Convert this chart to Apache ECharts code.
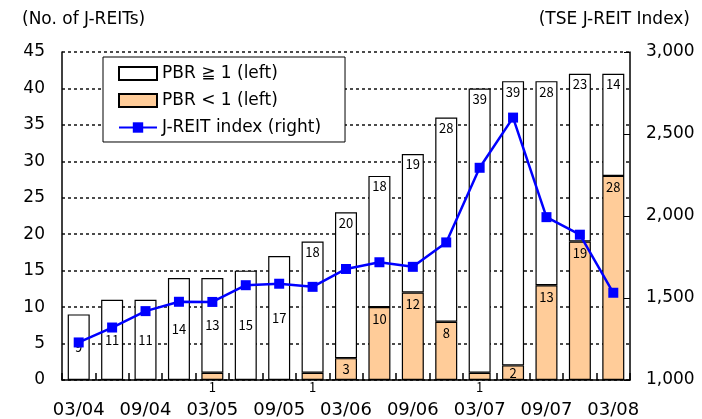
<!DOCTYPE html>
<html>
<head>
<meta charset="utf-8">
<script src="https://cdn.jsdelivr.net/npm/echarts@6/dist/echarts.min.js"></script>
<style>
  html, body { margin: 0; padding: 0; background: #fff; }
  #chart { width: 702px; height: 419px; }
</style>
</head>
<body>
<div id="chart"></div>
<script>
// Quarter-end months (MM/YY)
const quarters = ['03/04','06/04','09/04','12/04','03/05','06/05','09/05','12/05',
                  '03/06','06/06','09/06','12/06','03/07','06/07','09/07','12/07','03/08'];
// Number of J-REITs with price-to-book ratio >= 1
const pbrAtOrAbove1 = [9, 11, 11, 14, 13, 15, 17, 18, 20, 18, 19, 28, 39, 39, 28, 23, 14];
// Number of J-REITs with price-to-book ratio < 1
const pbrBelow1 = [0, 0, 0, 0, 1, 0, 0, 1, 3, 10, 12, 8, 1, 2, 13, 19, 28];
// TSE J-REIT Index level
const reitIndex = [1229, 1320, 1420, 1477, 1476, 1578, 1587, 1568, 1677, 1718, 1690,
                   1839, 2294, 2600, 1993, 1886, 1532];

const countTicks = { min: 0, max: 45, step: 5 };
const indexTicks = { min: 1000, max: 3000, step: 500 };

const FONT = '"DejaVu Sans", "Noto Sans CJK JP", sans-serif';
const LABEL_FONT = '"Noto Sans CJK JP", "DejaVu Sans", sans-serif';

const chart = echarts.init(document.getElementById('chart'), null, { renderer: 'canvas' });

// Orange segment: a count of 1 is written under the axis, 2-3 centred, the rest near the top
const belowItems = pbrBelow1.map(v => {
  if (!v) return { value: null };
  let pos = 'insideTop', dist = 5;
  if (v === 1) { pos = 'bottom'; dist = 1; }
  else if (v < 5) { pos = 'inside'; }
  return { value: v, label: { position: pos, distance: dist } };
});
// White segment: short stacks carry the count mid-bar, tall stacks near the top
const aboveItems = pbrAtOrAbove1.map((v, i) => ({
  value: v,
  label: { position: v + pbrBelow1[i] >= 19 ? 'insideTop' : 'inside', distance: 4 }
}));

const barLabel = { show: true, color: '#000', fontFamily: LABEL_FONT, fontSize: 13 };

chart.setOption({
  animation: false,
  textStyle: { fontFamily: FONT },
  grid: { left: 62, right: 72, top: 52, bottom: 38, containLabel: false },
  graphic: [
    { type: 'text', left: 22, top: 11,
      style: { text: '(No. of J-REITs)', font: '17px ' + FONT, fill: '#000' } },
    { type: 'text', right: 12, top: 11,
      style: { text: '(TSE J-REIT Index)', font: '17px ' + FONT, fill: '#000' } }
  ],
  legend: {
    orient: 'vertical',
    left: 103, top: 57,
    padding: [8, 24, 6, 15],
    itemGap: 10,
    itemWidth: 38, itemHeight: 13,
    backgroundColor: '#fff',
    borderColor: '#000', borderWidth: 1,
    textStyle: { fontFamily: FONT, fontSize: 17, color: '#000' },
    data: [
      { name: 'PBR ≧ 1 (left)', icon: 'rect' },
      { name: 'PBR < 1 (left)', icon: 'rect' },
      { name: 'J-REIT index (right)' }
    ]
  },
  xAxis: {
    type: 'category',
    data: quarters,
    axisLine: { lineStyle: { color: '#000', width: 1.5 } },
    axisTick: { show: true, inside: true, length: 7, interval: 0,
                lineStyle: { color: '#000', width: 1.5 } },
    axisLabel: { interval: 1, color: '#000', fontSize: 18, fontFamily: FONT, margin: 21 },
    splitLine: { show: false }
  },
  yAxis: [
    {
      type: 'value',
      min: countTicks.min, max: countTicks.max, interval: countTicks.step,
      axisLine: { show: true, lineStyle: { color: '#000', width: 1.5 } },
      axisTick: { show: false },
      axisLabel: { color: '#000', fontSize: 17, fontFamily: FONT, margin: 17 },
      splitLine: { show: true, lineStyle: { color: '#111', width: 1.5, type: [3, 3] } }
    },
    {
      type: 'value',
      min: indexTicks.min, max: indexTicks.max, interval: indexTicks.step,
      axisLine: { show: true, lineStyle: { color: '#000', width: 1.5 } },
      axisTick: { show: true, inside: true, length: 6, lineStyle: { color: '#000' } },
      axisLabel: { color: '#000', fontSize: 17, fontFamily: FONT, margin: 16,
                   formatter: v => v.toLocaleString('en-US') },
      splitLine: { show: false }
    }
  ],
  series: [
    {
      name: 'PBR < 1 (left)',
      type: 'bar',
      stack: 'count',
      barWidth: 22,
      data: belowItems,
      itemStyle: { color: '#FFCC99', borderColor: '#000', borderWidth: 1.2 },
      label: barLabel,
      z: 2
    },
    {
      name: 'PBR ≧ 1 (left)',
      type: 'bar',
      stack: 'count',
      barWidth: 22,
      data: aboveItems,
      itemStyle: { color: '#fff', borderColor: '#000', borderWidth: 1.2 },
      label: barLabel,
      z: 2
    },
    {
      name: 'J-REIT index (right)',
      type: 'line',
      yAxisIndex: 1,
      data: reitIndex,
      symbol: 'rect',
      symbolSize: 10,
      lineStyle: { color: '#0000FF', width: 2.5 },
      itemStyle: { color: '#0000FF' },
      z: 5
    }
  ]
});
</script>
</body>
</html>
